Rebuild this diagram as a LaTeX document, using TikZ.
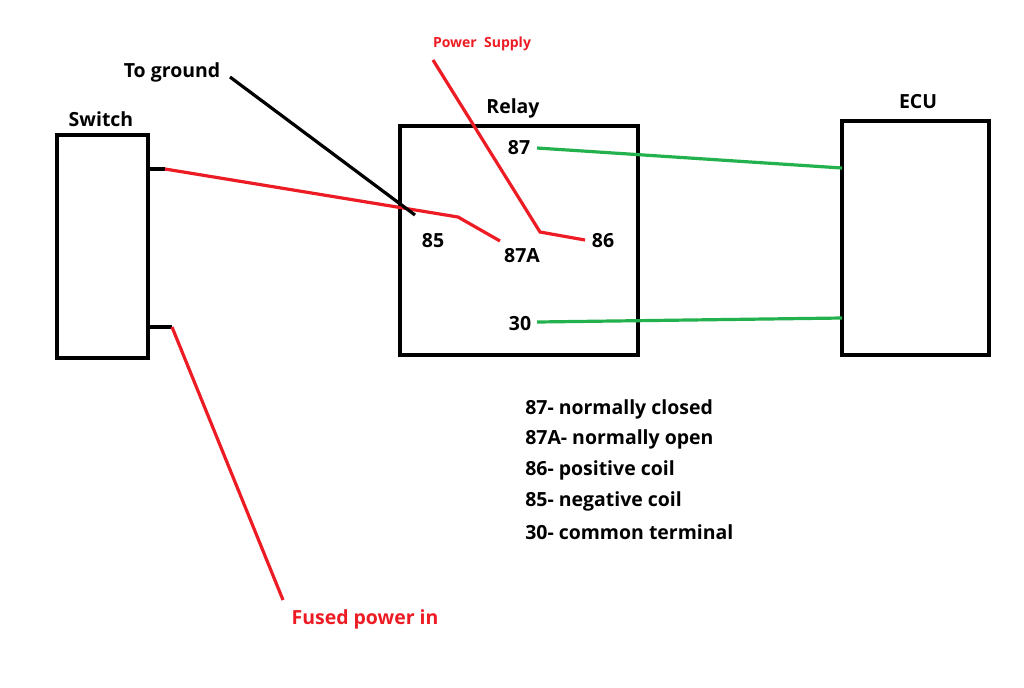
\documentclass[tikz,border=0pt]{standalone}
\usepackage{fontspec}
\setmainfont{Open Sans}
\definecolor{wred}{RGB}{237,28,36}
\definecolor{wgreen}{RGB}{34,177,76}
\begin{document}
\begin{tikzpicture}[x=0.75pt,y=-0.75pt,
  box/.style={draw=black,line width=3pt},
  lbl/.style={font=\bfseries\fontsize{14.6}{16}\selectfont,inner sep=0pt},
  rw/.style={draw=wred,line width=2.4pt},
  gw/.style={draw=wgreen,line width=2.4pt},
  bw/.style={draw=black,line width=2.4pt}]
\useasboundingbox (0,0) rectangle (1024,687);
\node[box,minimum width=68pt,minimum height=167pt,inner sep=0pt] (sw) at (102.5,246.5) {};
\node[box,minimum width=178pt,minimum height=172pt,inner sep=0pt] (relay) at (519,240.5) {};
\node[box,minimum width=110pt,minimum height=176pt,inner sep=0pt] (ecu) at (915.5,238) {};
\node[lbl] (swl) at (101,119) {Switch};
\node[lbl] (rl) at (513,108) {Relay};
\node[lbl] (el) at (918,102) {ECU};
\node[lbl] (tg) at (172,72) {To ground};
\node[lbl,text=wred,font=\bfseries\fontsize{10.5}{12}\selectfont] (ps) at (482,44) {Power\ \ Supply};
\node[lbl,text=wred] (fp) at (365,619) {Fused power in};
\node[lbl] (t87) at (519,148) {87};
\node[lbl] (t85) at (433,241) {85};
\node[lbl] (t87a) at (522,256) {87A};
\node[lbl] (t86) at (603,241) {86};
\node[lbl] (t30) at (520,324) {30};
\coordinate (a1) at (148,169); \coordinate (a2) at (165,169);
\coordinate (a3) at (458,217); \coordinate (a4) at (500,241);
\coordinate (b1) at (148,327); \coordinate (b2) at (172,327);
\coordinate (b3) at (283,600);
\coordinate (g1) at (230,77); \coordinate (g2) at (415,215);
\coordinate (p1) at (433,60); \coordinate (p2) at (540,232); \coordinate (p3) at (585,240);
\coordinate (e1) at (537,148); \coordinate (e2) at (842,168);
\coordinate (f1) at (537,322); \coordinate (f2) at (842,318);
\draw[bw] (a1) -- (a2);
\draw[bw] (b1) -- (b2);
\draw[rw] (a2) -- (a3) -- (a4);
\draw[rw] (b2) -- (b3);
\draw[bw] (g1) -- (g2);
\draw[rw] (p1) -- (p2) -- (p3);
\draw[gw] (e1) -- (e2);
\draw[gw] (f1) -- (f2);
\node[lbl,anchor=west] (l1) at (525,409) {87- normally closed};
\node[lbl,anchor=west] (l2) at (525,439) {87A- normally open};
\node[lbl,anchor=west] (l3) at (525,470) {86- positive coil};
\node[lbl,anchor=west] (l4) at (525,501) {85- negative coil};
\node[lbl,anchor=west] (l5) at (525,532) {30- common terminal};
\end{tikzpicture}
\end{document}
